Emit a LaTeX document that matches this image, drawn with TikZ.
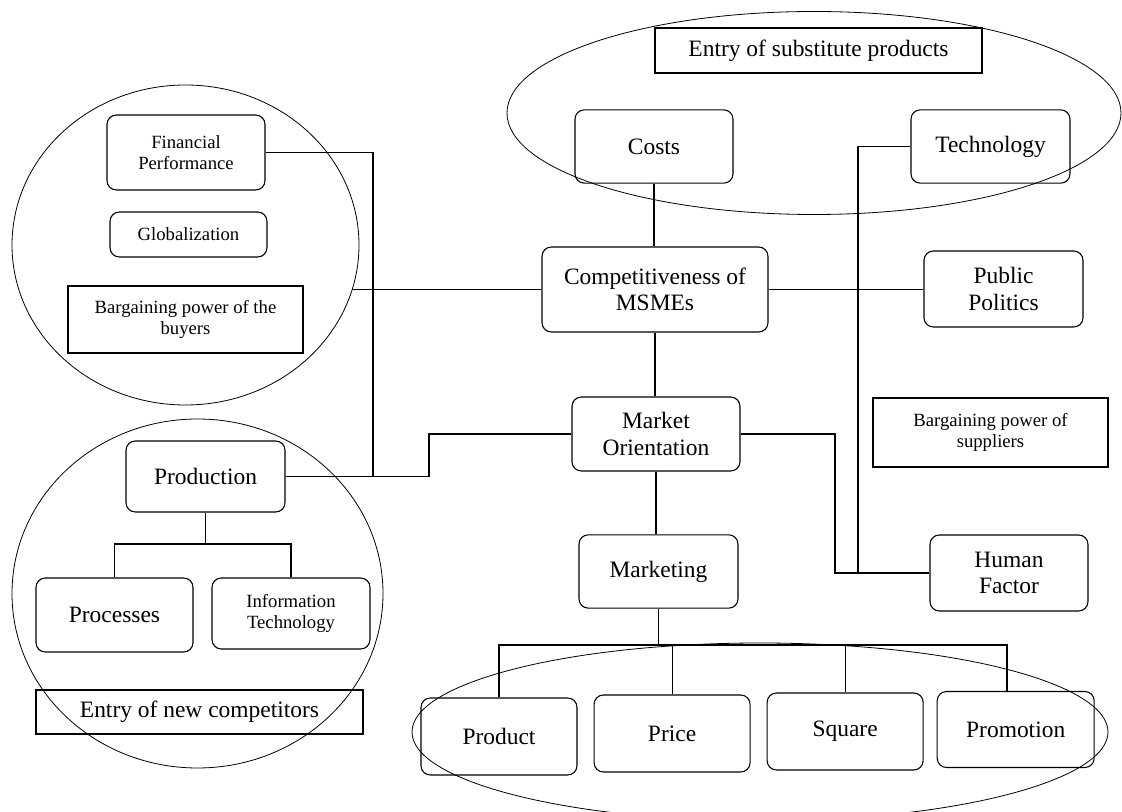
\documentclass[tikz,border=0pt]{standalone}
\usepackage{fontspec}
\setmainfont{Liberation Serif}
\usetikzlibrary{positioning,shapes.geometric}
\newcommand{\bigfont}{\fontsize{17.6}{20}\selectfont}
\newcommand{\smallfont}{\fontsize{14}{16}\selectfont}

\begin{document}
\begin{tikzpicture}[
  x=0.75pt, y=-0.75pt,
  font=\bigfont,
  rbox/.style={draw,rounded corners=7pt,line width=0.8pt,align=center,
               minimum width=118.5pt,minimum height=55pt},
  sbox/.style={draw,rectangle,line width=0.8pt,align=center},
  zone/.style={draw,ellipse,line width=0.6pt,inner sep=0pt},
  link/.style={line width=0.8pt}
]
\useasboundingbox (0,0) rectangle (1122,812);

% Substitutes zone (top)
\node[zone, minimum width=460.5pt, minimum height=152.25pt] (subzone) at (814,113) {};
\node[sbox, minimum width=245.25pt, minimum height=33.75pt] (subst) at (818.5,50.5)
      {Entry of substitute products};
\node[rbox] (costs) at (654,146.5) {Costs};
\node[rbox, minimum width=119.25pt] (tech) at (990.5,146.5) {Technology};

% Centre column
\node[rbox, minimum width=169.5pt, minimum height=63.75pt] (comp) at (655,289.5)
      {Competitiveness of\\MSMEs};
\node[rbox, minimum width=126pt, minimum height=55.5pt] (mo) at (656,434)
      {Market\\Orientation};
\node[rbox, minimum width=119.25pt] (mkt) at (658.5,571.5) {Marketing};

% Right column
\node[rbox, minimum width=119.25pt, minimum height=57pt] (pubpol) at (1003.5,289)
      {Public\\Politics};
\node[sbox, minimum width=176.25pt, minimum height=51.75pt, font=\smallfont] (supp)
      at (990.5,432.5) {Bargaining power of\\suppliers};
\node[rbox, minimum height=57pt] (human) at (1009,573) {Human\\Factor};

% Buyers zone (left, top)
\node[zone, minimum width=260.25pt, minimum height=240pt] (buyzone) at (185.5,245) {};
\node[rbox, minimum height=56.25pt, font=\smallfont] (finperf) at (186,152.5)
      {Financial\\Performance};
\node[rbox, minimum width=117.75pt, minimum height=33.75pt, font=\smallfont] (glob)
      at (188.5,234.5) {Globalization};
\node[sbox, minimum width=176.25pt, minimum height=50.25pt, font=\smallfont] (buyers)
      at (185.5,319.5) {Bargaining power of the\\buyers};

% Competitors zone (left, bottom)
\node[zone, minimum width=278.25pt, minimum height=261.75pt] (compzone) at (197.5,593.5) {};
\node[rbox, minimum width=119.25pt, minimum height=53.25pt] (prod) at (205.5,476.5)
      {Production};
\node[rbox, minimum width=117.75pt, minimum height=55.5pt] (procs) at (114.5,615)
      {Processes};
\node[rbox, minimum height=53.25pt, font=\smallfont] (infotech) at (291,613.5)
      {Information\\Technology};
\node[sbox, minimum width=245.25pt, minimum height=33pt] (newcomp) at (199.5,712)
      {Entry of new competitors};

% Marketing mix zone (bottom)
\node[zone, minimum width=522pt, minimum height=133.5pt] (mixzone) at (760,732) {};
\node[rbox, minimum width=117pt, minimum height=57.75pt] (product) at (499,736.5) {Product};
\node[rbox, minimum width=117pt, minimum height=57.75pt, right=12pt of product,
      yshift=2.25pt] (price) {Price};
\node[rbox, minimum width=117pt, minimum height=57.75pt, right=12pt of price,
      yshift=1.5pt] (square) {Square};
\node[rbox, minimum width=117.75pt, minimum height=57pt, right=9.75pt of square,
      yshift=1.5pt] (promo) {Promotion};

% Connections
\coordinate (bus) at (656,645);
\coordinate (pbus) at (205,544);
\coordinate (fpx) at (373,148);
\coordinate (jog) at (429,455);
\coordinate (techdrop) at (858,573);
\coordinate (hfturn) at (835,573);
\coordinate (promodrop) at (1007,0);

\draw[link] (costs.south) -- (costs.south |- comp.north);
\draw[link] (comp.south) -- (comp.south |- mo.north);
\draw[link] (mo.south) -- (mo.south |- mkt.north);
\draw[link] (comp.east) -- (comp.east -| pubpol.west);
\draw[link] (comp.west) -- (buyzone.-15 |- comp.west);
\draw[link] (tech.west) -| (techdrop);
\draw[link] (mo.east) -| (hfturn) -- (human.west);
\draw[link] (finperf.east) -- (finperf.east -| fpx) |- (prod.east);
\draw[link] (prod.east) -| (jog) |- (mo.west);
\draw[link] (prod.south) -- (prod.south |- pbus);
\draw[link] (procs.north) |- (pbus) -| (infotech.north);
\draw[link] (mkt.south) -- (mkt.south |- bus);
\draw[link] (product.north) |- (bus) -| (promodrop |- promo.north);
\draw[link] (price.north) -- (price.north |- bus);
\draw[link] (square.north) -- (square.north |- bus);
\end{tikzpicture}
\end{document}
